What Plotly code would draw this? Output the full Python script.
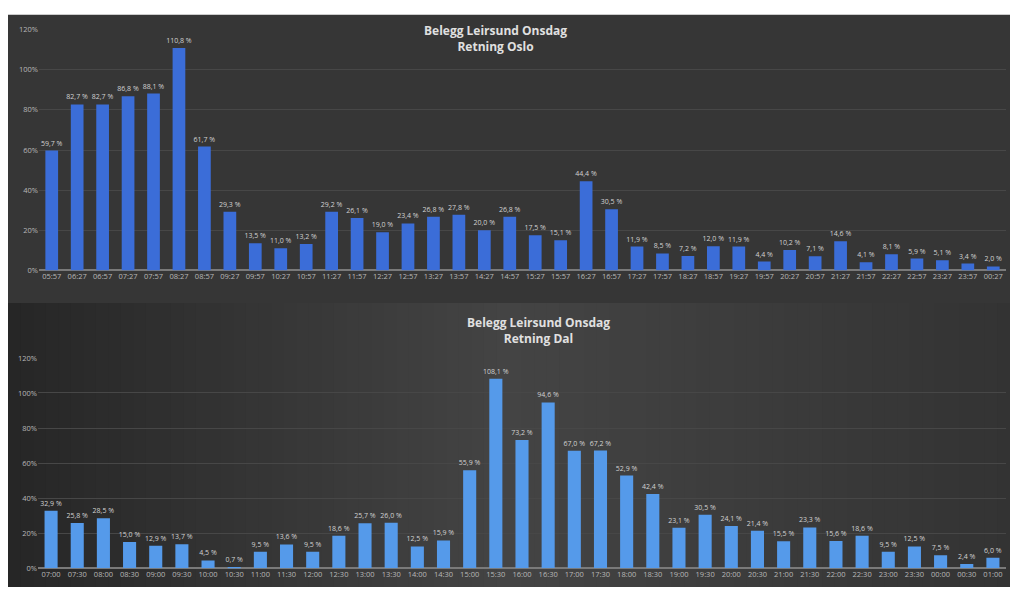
import plotly.graph_objects as go

# ---- Data ----
oslo_times = ["05:57", "06:27", "06:57", "07:27", "07:57", "08:27", "08:57", "09:27", "09:57", "10:27",
              "10:57", "11:27", "11:57", "12:27", "12:57", "13:27", "13:57", "14:27", "14:57", "15:27",
              "15:57", "16:27", "16:57", "17:27", "17:57", "18:27", "18:57", "19:27", "19:57", "20:27",
              "20:57", "21:27", "21:57", "22:27", "22:57", "23:27", "23:57", "00:27"]
oslo_values = [59.7, 82.7, 82.7, 86.8, 88.1, 110.8, 61.7, 29.3, 13.5, 11.0,
               13.2, 29.2, 26.1, 19.0, 23.4, 26.8, 27.8, 20.0, 26.8, 17.5,
               15.1, 44.4, 30.5, 11.9, 8.5, 7.2, 12.0, 11.9, 4.4, 10.2,
               7.1, 14.6, 4.1, 8.1, 5.9, 5.1, 3.4, 2.0]

dal_times = ["07:00", "07:30", "08:00", "08:30", "09:00", "09:30", "10:00", "10:30", "11:00", "11:30",
             "12:00", "12:30", "13:00", "13:30", "14:00", "14:30", "15:00", "15:30", "16:00", "16:30",
             "17:00", "17:30", "18:00", "18:30", "19:00", "19:30", "20:00", "20:30", "21:00", "21:30",
             "22:00", "22:30", "23:00", "23:30", "00:00", "00:30", "01:00"]
dal_values = [32.9, 25.8, 28.5, 15.0, 12.9, 13.7, 4.5, 0.7, 9.5, 13.6,
              9.5, 18.6, 25.7, 26.0, 12.5, 15.9, 55.9, 108.1, 73.2, 94.6,
              67.0, 67.2, 52.9, 42.4, 23.1, 30.5, 24.1, 21.4, 15.5, 23.3,
              15.6, 18.6, 9.5, 12.5, 7.5, 2.4, 6.0]

y_ticks = [0, 20, 40, 60, 80, 100, 120]
title_top = "Belegg Leirsund Onsdag<br>Retning Oslo"
title_bottom = "Belegg Leirsund Onsdag<br>Retning Dal"


def fmt(v):
    return f"{v:.1f} %".replace(".", ",")


W, H = 1010, 592

fig = go.Figure()
fig.add_trace(go.Bar(
    x=oslo_times, y=oslo_values, xaxis="x", yaxis="y",
    marker=dict(color="#3b6dd8", line=dict(width=0)),
    text=[fmt(v) for v in oslo_values], textposition="outside", cliponaxis=False,
    constraintext="none",
    textfont=dict(size=7, color="#d2d2d2", family="Open Sans"),
    hoverinfo="x+y", showlegend=False,
))
fig.add_trace(go.Bar(
    x=dal_times, y=dal_values, xaxis="x2", yaxis="y2",
    marker=dict(color="#559aea", line=dict(width=0)),
    text=[fmt(v) for v in dal_values], textposition="outside", cliponaxis=False,
    constraintext="none",
    textfont=dict(size=7, color="#d2d2d2", family="Open Sans"),
    hoverinfo="x+y", showlegend=False,
))

axis_font = dict(size=7.5, color="#b8b8b8", family="Open Sans")


def lerp_hex(c1, c2, t):
    a = [int(c1[i:i + 2], 16) for i in (1, 3, 5)]
    b = [int(c2[i:i + 2], 16) for i in (1, 3, 5)]
    return "#" + "".join(f"{round(a[k] + (b[k] - a[k]) * t):02x}" for k in range(3))


shapes = []
# top panel: fairly flat dark grey
shapes.append(dict(type="rect", xref="paper", yref="paper", x0=8 / W, x1=1, y0=1 - 303 / H, y1=1 - 10 / H,
                   fillcolor="#363636", line=dict(width=0), layer="below"))
# bottom panel: soft horizontal gradient (dark left, lighter middle, darker right)
n = 80
for i in range(n):
    xa = 8 + (W - 8) * i / n
    xb = 8 + (W - 8) * (i + 1) / n
    t = (i + 0.5) / n
    if t < 0.5:
        col = lerp_hex("#262626", "#444444", t / 0.5)
    else:
        col = lerp_hex("#444444", "#333333", (t - 0.5) / 0.5)
    shapes.append(dict(type="rect", xref="paper", yref="paper", x0=xa / W, x1=xb / W + 0.001,
                       y0=0, y1=1 - 303 / H, fillcolor=col, line=dict(width=0), layer="below"))

fig.update_layout(
    width=W, height=H,
    margin=dict(l=0, r=0, t=0, b=0),
    paper_bgcolor="#ffffff",
    plot_bgcolor="rgba(0,0,0,0)",
    bargap=0.5,
    font=dict(family="Open Sans", color="#c8c8c8"),
    xaxis=dict(domain=[39 / W, 1006 / W], anchor="y", tickfont=axis_font,
               showgrid=False, showline=False, ticks="", tickangle=0),
    yaxis=dict(domain=[1 - 270 / H, 1 - 25 / H], anchor="x", range=[0, 120],
               tickvals=y_ticks, ticktext=[f"{t}%" for t in y_ticks],
               tickfont=axis_font, gridcolor="#474747", gridwidth=1,
               zeroline=True, zerolinecolor="#7a7a7a", zerolinewidth=2,
               showline=False, ticks=""),
    xaxis2=dict(domain=[38 / W, 1006 / W], anchor="y2", tickfont=axis_font,
                showgrid=False, showline=False, ticks="", tickangle=0),
    yaxis2=dict(domain=[1 - 573 / H, 1 - 359 / H], anchor="x2", range=[0, 120],
                tickvals=y_ticks, ticktext=[f"{t}%" for t in y_ticks],
                tickfont=axis_font, gridcolor="#474747", gridwidth=1,
                zeroline=True, zerolinecolor="#7a7a7a", zerolinewidth=2,
                showline=False, ticks=""),
    shapes=shapes,
    annotations=[
        dict(text=title_top, xref="paper", yref="paper", x=495 / W, y=1 - 34 / H,
             xanchor="center", yanchor="middle", showarrow=False,
             font=dict(size=12, color="#e0e0e0", family="Open Sans", weight="bold")),
        dict(text=title_bottom, xref="paper", yref="paper", x=538 / W, y=1 - 331 / H,
             xanchor="center", yanchor="middle", showarrow=False,
             font=dict(size=12, color="#e0e0e0", family="Open Sans", weight="bold")),
    ],
)

fig.write_html("out.html", config={"displayModeBar": False},
               post_script="document.body.style.margin='0';")
